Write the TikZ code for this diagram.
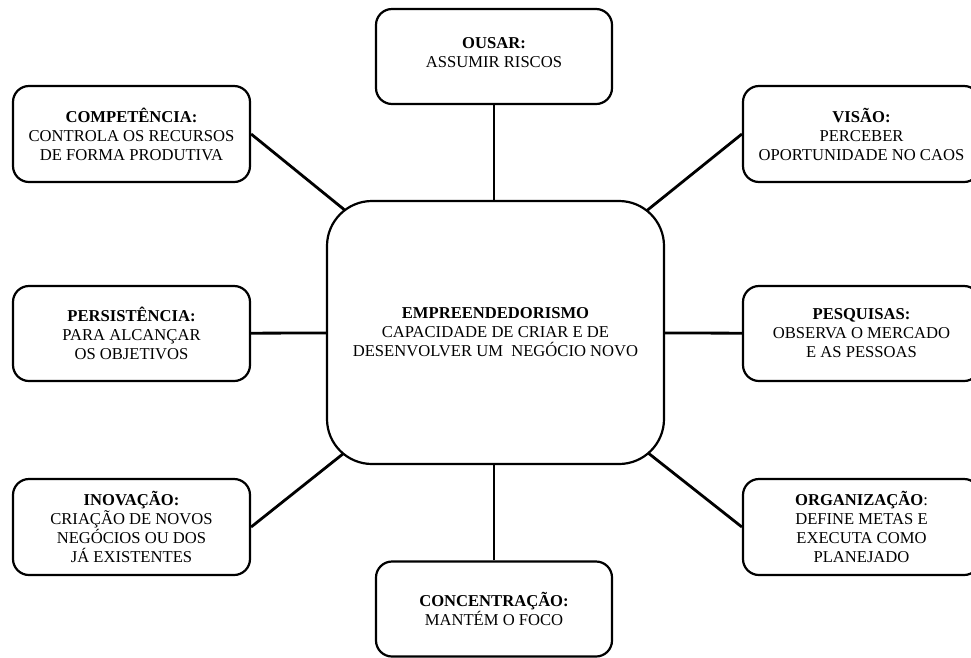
\documentclass[tikz,border=0pt]{standalone}
\usepackage{fontspec}
\setmainfont{Liberation Serif}
\pgfdeclarelayer{bg}
\pgfsetlayers{bg,main}
\begin{document}
\begin{tikzpicture}[x=1pt,y=-1pt,
  box/.style={draw, line width=2.2pt, rounded corners=16pt, fill=white, align=center,
    font=\fontsize{16.6}{19}\selectfont, inner sep=0pt, minimum width=237pt, minimum height=96pt},
  hub/.style={box, rounded corners=45pt, minimum width=337pt, minimum height=263pt},
  txt/.style={align=center, font=\fontsize{16.6}{19}\selectfont, inner sep=0pt},
  link/.style={line width=2.8pt}]
\path[use as bounding box, clip] (0,0) rectangle (971,657);

\node[hub] (hub) at (495.5,332.5) {\textbf{EMPREENDEDORISMO}\\CAPACIDADE DE CRIAR E DE\\DESENVOLVER UM\ \ NEGÓCIO NOVO};

\node[box, minimum width=236pt, minimum height=95pt] (ousar) at (494,56.5) {};
\node[txt] (ousartxt) at (494,52.5) {\textbf{OUSAR:}\\ASSUMIR RISCOS};

\node[box] (comp) at (131.5,134) {\textbf{COMPETÊNCIA:}\\CONTROLA OS RECURSOS\\DE FORMA PRODUTIVA};
\node[box] (visao) at (861.5,134) {\textbf{VISÃO:}\\PERCEBER\\OPORTUNIDADE NO CAOS};
\node[box, minimum height=95pt] (pers) at (131.5,333.5) {\textbf{PERSISTÊNCIA:}\\PARA ALCANÇAR\\OS OBJETIVOS};
\node[box, minimum height=95pt] (pesq) at (861.5,333.5) {\textbf{PESQUISAS:}\\OBSERVA O MERCADO\\E AS PESSOAS};
\node[box] (inov) at (131.5,527) {\textbf{INOVAÇÃO:}\\CRIAÇÃO DE NOVOS\\NEGÓCIOS OU DOS\\JÁ EXISTENTES};
\node[box] (org) at (861.5,527) {\textbf{ORGANIZAÇÃO}:\\DEFINE METAS E\\EXECUTA COMO\\PLANEJADO};
\node[box, minimum width=236pt, minimum height=95pt] (conc) at (494,609) {\textbf{CONCENTRAÇÃO:}\\MANTÉM O FOCO};

\begin{pgfonlayer}{bg}
  \fill[white] (0,0) rectangle (971,657);
  \draw[link] (ousar) -- (ousar |- hub.north);
  \draw[link] (conc) -- (conc |- hub.south);
  \draw[link] (comp.east) -- (hub.center);
  \draw[link] (visao.west) -- (hub.center);
  \draw[link] (pers) -- (hub);
  \draw[link] (pesq) -- (hub);
  \draw[link] (inov.east) -- (hub.center);
  \draw[link] (org.west) -- (hub.center);
\end{pgfonlayer}
\end{tikzpicture}
\end{document}
